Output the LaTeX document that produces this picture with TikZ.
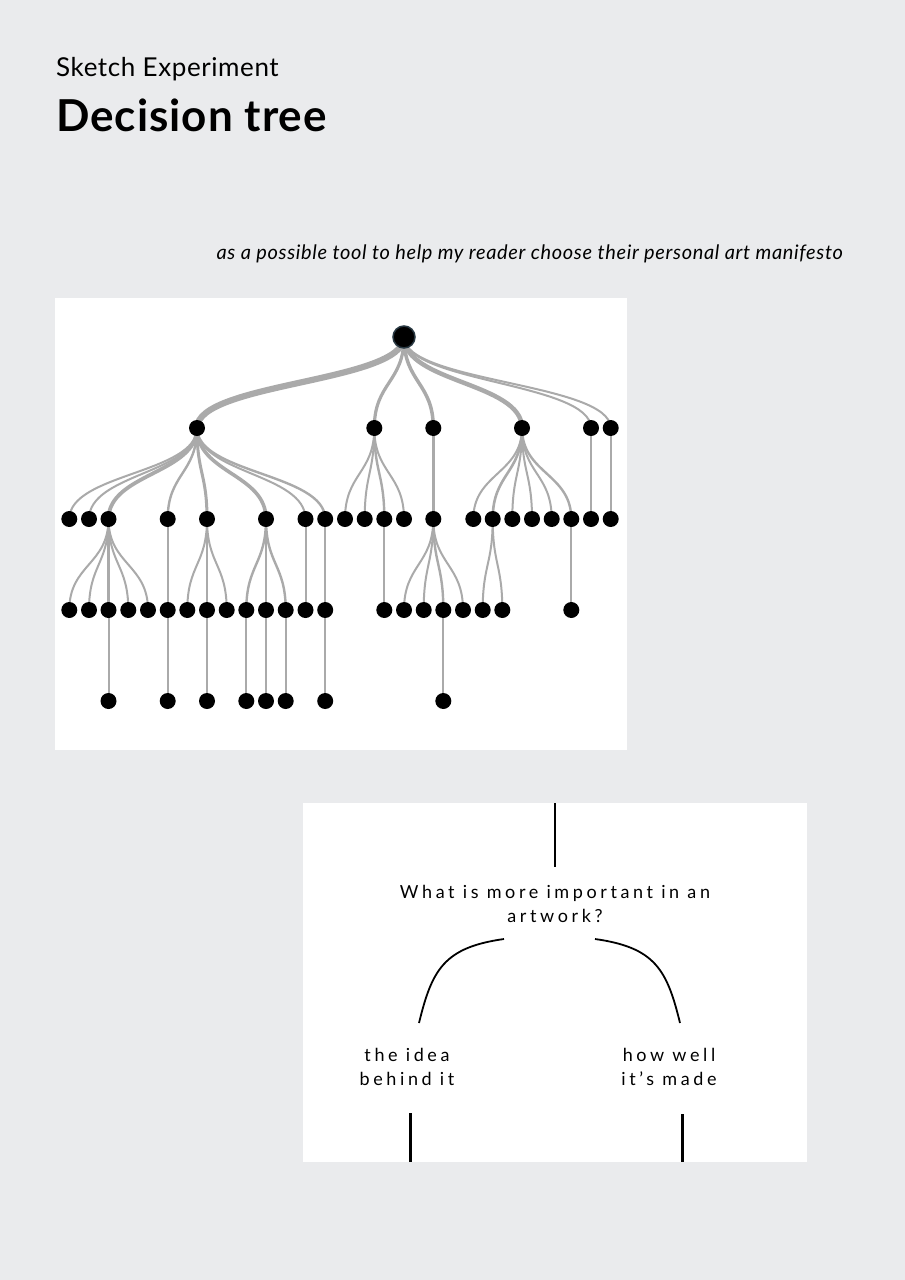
\documentclass[tikz,border=0pt]{standalone}
\usepackage{fontspec}
\setmainfont{Lato}
\newfontfamily\headfont[LetterSpace=2.3]{Lato}
\newfontfamily\subfont[LetterSpace=3.3]{Lato}
\newfontfamily\boxfont[LetterSpace=20]{Lato}
\usetikzlibrary{positioning, calc, backgrounds}
\usepackage{xcolor}
\definecolor{pagebg}{RGB}{234,235,237}
\definecolor{linkgray}{RGB}{170,170,170}
\definecolor{rootrim}{RGB}{40,56,66}
\pgfdeclarelayer{links}
\pgfsetlayers{background,links,main}

\begin{document}
\begin{tikzpicture}[
                x=1pt, y=-1pt,
                dot/.style={circle, fill=black, minimum size=16pt, inner sep=0pt},
                rootdot/.style={dot, draw=rootrim, line width=1.5pt, minimum size=22pt},
                link/.style={draw=linkgray},
                txt/.style={inner sep=0pt, anchor=base},
                boxtxt/.style={txt, align=center, font=\boxfont\fontsize{18}{23.8}\selectfont},
                stem/.style={line width=2.6pt},
                branch/.style={line width=1.8pt},
            ]
            \useasboundingbox (0,0) rectangle (905,1280);
            \begin{pgfonlayer}{background}
            \fill[pagebg] (0,0) rectangle (905,1280);
            \fill[white] (55,298) rectangle (627,750);
            \fill[white] (303,803) rectangle (807,1162);
            \end{pgfonlayer}

            % === Header ===
            \node[txt, anchor=base west, font=\headfont\fontsize{26}{30}\selectfont] (kicker) at (56,76) {Sketch Experiment};
            \node[txt, anchor=base west, font=\headfont\fontsize{44}{50}\selectfont\bfseries] (title) at (56,131.7) {Decision tree};
            \node[txt, anchor=base east, font=\subfont\fontsize{20}{24}\selectfont\itshape] (subtitle) at (843,259)
                {as a possible tool to help my reader choose their personal art manifesto};

            % === Tree panel ===
            \node[rootdot] (r) at (404,337) {};
            \foreach \n/\x in {A1/197, A2/374.3, A3/433.3, A4/522, A5/591, A6/610.7} {
                \node[dot] (\n) at (\x,428) {};
            }
            \foreach \n/\x in {B1/69.3, B2/89, B3/108.5, B4/167.7, B5/207, B6/266, B7/305.5, B8/325.2,
                               B9/345, B10/364.7, B11/384.3, B12/404, B13/433.3, B14/473.3, B15/492.7,
                               B16/512.3, B17/532, B18/551.7, B19/571.3, B20/591, B21/610.7} {
                \node[dot] (\n) at (\x,519) {};
            }
            \foreach \n/\x in {C1/69.3, C2/89, C3/108.5, C4/128.3, C5/148, C6/167.7, C7/187.3, C8/207,
                               C9/226.7, C10/246.3, C11/266, C12/285.7, C13/305.5, C14/325.2, C15/384.3,
                               C16/404, C17/423.7, C18/443.3, C19/463, C20/482.7, C21/502.3, C22/571.3} {
                \node[dot] (\n) at (\x,610) {};
            }
            \foreach \n/\x in {D1/108.5, D2/167.7, D3/207, D4/246.3, D5/266, D6/285.7, D7/325.2, D8/443.3} {
                \node[dot] (\n) at (\x,701) {};
            }
            \begin{pgfonlayer}{links}
            \foreach \p/\c/\w in {r/A1/6.2, r/A2/3.2, r/A3/3.5, r/A4/4.5, r/A5/2, r/A6/2,
                    A1/B1/2, A1/B2/2, A1/B3/3.8, A1/B4/2.4, A1/B5/3, A1/B6/3.6, A1/B7/2, A1/B8/2.4,
                    A2/B9/2, A2/B10/2, A2/B11/2.4, A2/B12/2, A3/B13/3.5,
                    A4/B14/2, A4/B15/2.6, A4/B16/2, A4/B17/2, A4/B18/2, A4/B19/2.4, A5/B20/2, A6/B21/2,
                    B3/C1/2, B3/C2/2, B3/C3/2.4, B3/C4/2, B3/C5/2, B4/C6/2.4,
                    B5/C7/2, B5/C8/2.4, B5/C9/2, B6/C10/2.4, B6/C11/2.4, B6/C12/2.4,
                    B7/C13/2, B8/C14/2.4, B11/C15/2,
                    B13/C16/2, B13/C17/2, B13/C18/2.4, B13/C19/2, B15/C20/2, B15/C21/2, B19/C22/2,
                    C3/D1/2, C6/D2/2, C8/D3/2, C10/D4/2, C11/D5/2, C12/D6/2, C14/D7/2, C18/D8/2} {
                \path ($(\p)!0.5!(\c)$) coordinate (mid);
                \draw[link, line width=\w pt] (\p.center) .. controls (\p |- mid) and (\c |- mid) .. (\c.center);
            }
            \end{pgfonlayer}

            % === Question panel ===
            \node[boxtxt] (question) at (555,922.7) {What is more important in an\\artwork?};
            \node[boxtxt] (idea) at (407,1085) {the idea\\behind it};
            \node[boxtxt] (made) at (669,1085) {how well\\it’s made};
            \coordinate (qin) at (555,803);
            \coordinate (qstem) at (555,867);
            \coordinate (qleft) at (504,939);
            \coordinate (qright) at (595,939);
            \coordinate (ideain) at (419,1023);
            \coordinate (madein) at (680,1023);
            \coordinate (ideaout) at (410.7,1113);
            \coordinate (madeout) at (682.3,1114);
            \draw[stem] (qin) -- (qstem);
            \draw[branch] (qleft) .. controls (444,947.4) and (432,969.6) .. (ideain);
            \draw[branch] (qright) .. controls (655,947.4) and (667,969.6) .. (madein);
            \draw[stem] (ideaout) -- (ideaout |- 0,1162);
            \draw[stem] (madeout) -- (madeout |- 0,1162);
\end{tikzpicture}
\end{document}
